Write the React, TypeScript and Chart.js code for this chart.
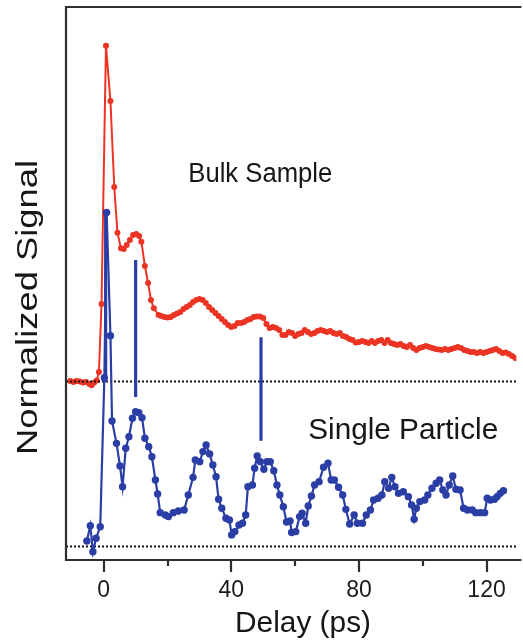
import { useEffect, useRef } from "react";
import { Chart, registerables } from "chart.js";
Chart.register(...registerables);

// ---- axis ranges / ticks ----
const X_MIN = -11.83;
const X_MAX = 129.36;
const Y_MIN = -8.2;
const Y_MAX = 327;
const X_TICKS_MAJOR = [0, 40, 80, 120];
const X_TICKS_MINOR = [20, 60, 100];

// ---- Bulk sample (red) ----
const bulkX = [
  -10.5, -9.5, -8.5, -7.5, -6.5, -5.5, -4.5, -3.8, -3, -2.2, -1.5, -0.7, 0.7, 2.1, 3.3, 4.3, 5.4, 6.3, 7.2, 8.2,
  9.2, 10.2, 11.1, 11.8, 12.9, 13.9, 14.8, 15.7, 17.2,
  18, 19, 20, 21, 22, 23, 24, 25, 26, 27, 28, 29, 30, 31, 32, 33, 34, 35, 36, 37, 38, 39, 40, 41, 42, 43, 44,
  45, 46, 47, 48, 49, 50, 51, 52, 53, 54, 55, 56, 57, 58, 59, 60, 61, 62, 63, 64, 65, 66, 67, 68, 69, 70, 71,
  72, 73, 74, 75, 76, 77, 78, 79, 80, 81, 82, 83, 84, 85, 86, 87, 88, 89, 90, 91, 92, 93, 94, 95, 96, 97, 98,
  99, 100, 101, 102, 103, 104, 105, 106, 107, 108, 109, 110, 111, 112, 113, 114, 115, 116, 117, 118, 119, 120,
  121, 122, 123, 124, 125, 126, 127, 128, 129,
];
const bulkY = [
  100.3, 99.7, 100.3, 100, 99.4, 99.7, 98.5, 97.8, 99.4, 100.6, 105.8, 147, 303.5, 270, 217.9, 190.2, 180.7, 180.3, 182.7, 185.8,
  188.8, 189.4, 188.2, 184.7, 170, 159.7, 149.4, 144.4, 140.3,
  139.7, 139.1, 138.8, 139.1, 140.3, 141.2, 142.1, 143.9, 145.2, 146.4, 148.2, 149.4, 150, 149.4, 147.6, 145.2, 143.3, 141.5, 139.7, 137.9, 136.1, 134.2, 133, 133.6, 135.5, 135.5, 136.1,
  137.3, 137.9, 139.1, 139.4, 139.4, 138.5, 134.8, 132.4, 133, 132.4, 131.2, 128.2, 128.2, 130, 129.4, 127.6, 128.8, 129.4, 131.2, 130, 128.8, 129.4, 130.6, 131.2, 130.6, 130, 130.6,
  129.4, 128.8, 129.4, 127.6, 127, 125.8, 125.2, 123.6, 123.9, 124.5, 123.9, 123.3, 124.5, 123.3, 124.5, 125.2, 123.3, 125.2, 123.3, 122.7, 122.1, 122.7, 121.5, 120.9, 122.1, 120.3, 119.1,
  120.3, 120.9, 121.5, 120.9, 120.3, 119.7, 119.4, 119.1, 119.7, 119.1, 119.7, 120.3, 120.9, 120.3, 119.1, 118.5, 117.9, 117.9, 117.3, 117.9, 117.3, 117.9,
  118.5, 119.1, 119.7, 118.5, 117.3, 117.6, 116.7, 115.5, 114.2,
];

// ---- Single particle (blue) ----
const particleX = [
  -5.3, -4.2, -3.4, -2.4, -1.1, 0.2, 0.9, 2.1, 2.6, 4, 5.1, 5.9, 6.9, 7.9, 9, 10, 11, 12, 12.9, 14.1, 15.1, 16.2,
  16.9, 17.7, 19.3, 20.3, 21.8, 23.4, 25.2, 26.5, 28, 28.7, 30.1, 31.1, 32.1, 33.2, 34.2, 35.2, 36, 37, 38.3, 39.4,
  40.1, 41.1, 42.4, 43.5, 44.5, 45.2, 46.6, 47.3, 48.1, 49.1, 50.2, 51.2, 52.2, 53.3, 54.3, 55.2, 56.3, 57.3, 58.4,
  58.9, 60.2, 61.4, 62.2, 63.3, 64.1, 65.1, 66.1, 67.5, 68.9, 70.3, 71.3, 72.3, 73.6, 74.9, 75.9, 77.1, 78.5, 79.5,
  81.1, 82.3, 83.6, 84.6, 86, 87.2, 88.1, 89.3, 90.3, 91.3, 92.4, 93.9, 95.5, 96.5, 97.3, 98, 99.1, 100.6, 101.6,
  102.9, 104.2, 105.3, 106.3, 107.3, 108.3, 109.4, 110.4, 111.7, 112.8, 114, 115.5, 116.6, 118.1, 119.4, 120.2,
  121.2, 122.5, 123.3, 124.3, 125.3,
];
const particleY = [
  3.3, 12.6, -3.2, 5, 12, 102.3, 202.5, 127.8, 76.1, 62.5, 48.8, 36.2, 59.5, 66.5, 77.7, 81.7, 81.1, 78.1, 65.6, 60.5, 54.4, 40.3,
  31.8, 20.5, 19.1, 18.1, 20.5, 21.5, 22.1, 31.2, 41.9, 52.4, 51.4, 57.5, 61.5, 56.1, 49.4, 42.3, 28.6, 23.2, 17.1, 16.1,
  7, 9, 13, 14.1, 19.1, 36.2, 37.3, 47.4, 54.8, 51.4, 46.8, 51.4, 51.4, 45.9, 37.3, 31.2, 24.1, 14.8, 15.5,
  8.5, 9, 18.1, 20.1, 14.1, 24.5, 30.6, 37.3, 39.3, 48, 50.4, 40.3, 40.3, 35.9, 31.2, 22.5, 13.6, 19.1, 14.1,
  14.1, 19.1, 22.1, 28.2, 29.2, 31.2, 39.3, 35.3, 41.9, 36.2, 32.2, 33.2, 30.2, 25.2, 16.5, 23.2, 27.2, 28.2, 31.2,
  35.3, 38.3, 40.3, 34.2, 31.2, 37.3, 42.7, 34.7, 34.2, 23.2, 22.1, 22.1, 20.5, 20.5, 20.5, 29.2,
  28.2, 28.6, 30.2, 32.2, 33.8,
];

// ---- baselines (dotted) and vertical marker bars ----
const baselineLevels = [100, 0];
const markerX = [0.6, 10.0, 49.3];
const markerTop = [202.7, 173.6, 126.8];
const markerBottom = [99.7, 90.6, 64.1];

// ---- labels ----
const X_TITLE = "Delay (ps)";
const Y_TITLE = "Normalized Signal";
const LABEL_BULK = "Bulk Sample";
const LABEL_BULK_AT = { x: 26.5, y: 220.9 };
const LABEL_PARTICLE = "Single Particle";
const LABEL_PARTICLE_AT = { x: 64.1, y: 65 };

const RED = "rgb(236,52,36)";
const BLUE = "rgb(42,62,165)";
const FONT = '"Liberation Sans", Arial, Helvetica, sans-serif';

function drawFitText(ctx: CanvasRenderingContext2D, text: string, x: number, y: number, size: number, width: number, rotate = false) {
  ctx.save();
  ctx.font = `${size}px ${FONT}`;
  const w = ctx.measureText(text).width;
  ctx.translate(x, y);
  if (rotate) ctx.rotate(-Math.PI / 2);
  ctx.scale(width / w, 1);
  ctx.textAlign = "left";
  ctx.textBaseline = "alphabetic";
  ctx.fillStyle = "#161616";
  ctx.fillText(text, 0, 0);
  ctx.restore();
}

const framePlugin = {
  id: "framePlugin",
  afterDraw(chart: any) {
    const { ctx, chartArea } = chart;
    const { left, top, right, bottom } = chartArea;
    const xs = chart.scales.x;
    const ys = chart.scales.y;
    ctx.save();
    ctx.strokeStyle = "#2e2e2e";
    ctx.lineWidth = 2.2;
    ctx.beginPath();
    ctx.moveTo(right + 5, top);
    ctx.lineTo(left, top);
    ctx.lineTo(left, bottom);
    ctx.lineTo(right + 5, bottom);
    ctx.stroke();
    ctx.beginPath();
    X_TICKS_MAJOR.forEach((v) => {
      const px = Math.round(xs.getPixelForValue(v));
      ctx.moveTo(px, bottom);
      ctx.lineTo(px, bottom + 12);
    });
    X_TICKS_MINOR.forEach((v) => {
      const px = Math.round(xs.getPixelForValue(v));
      ctx.moveTo(px, bottom);
      ctx.lineTo(px, bottom + 6);
    });
    ctx.stroke();
    ctx.restore();

    drawFitText(ctx, LABEL_BULK, xs.getPixelForValue(LABEL_BULK_AT.x), ys.getPixelForValue(LABEL_BULK_AT.y), 27, 144);
    drawFitText(ctx, LABEL_PARTICLE, xs.getPixelForValue(LABEL_PARTICLE_AT.x), ys.getPixelForValue(LABEL_PARTICLE_AT.y), 29, 190);
    drawFitText(ctx, X_TITLE, 235, 631.5, 29, 136);
    drawFitText(ctx, Y_TITLE, 37, 455, 30, 295, true);
  },
};

export default function App() {
  const ref = useRef<HTMLCanvasElement | null>(null);
  useEffect(() => {
    if (!ref.current) return;
    const datasets: any[] = [];
    datasets.push({
      label: "Bulk Sample",
      data: bulkX.map((x, i) => ({ x, y: bulkY[i] })),
      borderColor: RED,
      backgroundColor: RED,
      borderWidth: 2,
      pointRadius: 3,
      pointBorderWidth: 0,
      pointBackgroundColor: RED,
      tension: 0,
      order: 5,
    });
    baselineLevels.forEach((lv) => {
      datasets.push({
        label: "baseline",
        data: [{ x: X_MIN, y: lv }, { x: X_MAX, y: lv }],
        borderColor: "#111",
        borderWidth: 2,
        borderDash: [2, 2],
        pointRadius: 0,
        order: 4,
      });
    });
    markerX.forEach((mx, i) => {
      datasets.push({
        label: "marker",
        data: [{ x: mx, y: markerTop[i] }, { x: mx, y: markerBottom[i] }],
        borderColor: BLUE,
        borderWidth: 3.2,
        pointRadius: 0,
        order: 2,
      });
    });
    datasets.push({
      label: "Single Particle",
      data: particleX.map((x, i) => ({ x, y: particleY[i] })),
      borderColor: BLUE,
      backgroundColor: BLUE,
      borderWidth: 2.2,
      pointRadius: 3.7,
      pointBorderWidth: 0,
      pointBackgroundColor: BLUE,
      tension: 0,
      order: 1,
    });

    const chart = new Chart(ref.current, {
      type: "line",
      data: { datasets },
      options: {
        animation: false,
        responsive: true,
        maintainAspectRatio: false,
        layout: { padding: { left: 66, top: 7, right: 0, bottom: 0 } },
        plugins: { legend: { display: false }, tooltip: { enabled: false } },
        scales: {
          x: {
            type: "linear",
            min: X_MIN,
            max: X_MAX,
            afterBuildTicks: (s: any) => {
              s.ticks = X_TICKS_MAJOR.map((v) => ({ value: v }));
            },
            afterFit: (s: any) => {
              s.height = 82;
            },
            grid: { display: false, drawTicks: false },
            border: { display: false },
            ticks: {
              autoSkip: false,
              maxRotation: 0,
              padding: 17,
              color: "#1a1a1a",
              font: { size: 23, family: FONT },
            },
          },
          y: {
            type: "linear",
            display: false,
            min: Y_MIN,
            max: Y_MAX,
          },
        },
      },
      plugins: [framePlugin],
    });
    return () => chart.destroy();
  }, []);

  return (
    <div style={{ position: "absolute", left: 0, top: 0, width: 523, height: 642, background: "#fff" }}>
      <canvas ref={ref} style={{ display: "block" }} />
    </div>
  );
}
